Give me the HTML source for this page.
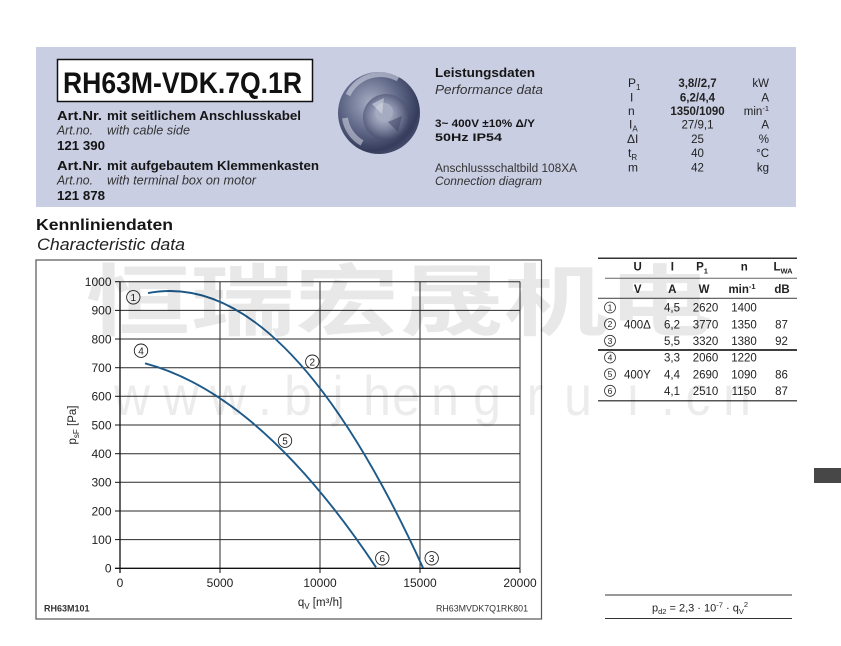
<!DOCTYPE html>
<html><head><meta charset="utf-8">
<style>
html,body{margin:0;padding:0;background:#fff;}
svg{display:block;}
text{font-family:"Liberation Sans",Arial,sans-serif;}
</style></head><body>
<svg width="841" height="646" viewBox="0 0 841 646" xmlns="http://www.w3.org/2000/svg">
<defs>
<radialGradient id="fanOuter" cx="40%" cy="38%" r="68%">
<stop offset="0" stop-color="#a7aec4"/>
<stop offset="0.5" stop-color="#626a8a"/>
<stop offset="0.85" stop-color="#353c5c"/>
<stop offset="1" stop-color="#4a5170"/>
</radialGradient>
<radialGradient id="fanInner" cx="45%" cy="45%" r="60%">
<stop offset="0" stop-color="#c2c7d6"/>
<stop offset="0.55" stop-color="#7c839f"/>
<stop offset="1" stop-color="#3a4060"/>
</radialGradient>
</defs>
<rect x="0" y="0" width="841" height="646" fill="#fff"/>

<!-- Header band -->
<rect x="36" y="47" width="760" height="160" fill="#c9cee3"/>
<rect x="57.5" y="59.5" width="255" height="42" fill="#fff" stroke="#111" stroke-width="1.5"/>
<text x="63" y="93" font-size="30" font-weight="bold" textLength="239" lengthAdjust="spacingAndGlyphs" fill="#111">RH63M-VDK.7Q.1R</text>

<g font-size="13" fill="#151515">
<text x="57" y="120" font-weight="bold" textLength="45" lengthAdjust="spacingAndGlyphs">Art.Nr.</text>
<text x="107" y="120" font-weight="bold" textLength="194" lengthAdjust="spacingAndGlyphs">mit seitlichem Anschlusskabel</text>
<text x="57" y="134.5" font-style="italic" textLength="36" lengthAdjust="spacingAndGlyphs" fill="#333">Art.no.</text>
<text x="107" y="134.5" font-style="italic" textLength="83" lengthAdjust="spacingAndGlyphs" fill="#333">with cable side</text>
<text x="57" y="150" font-weight="bold" textLength="48" lengthAdjust="spacingAndGlyphs">121 390</text>
<text x="57" y="170" font-weight="bold" textLength="45" lengthAdjust="spacingAndGlyphs">Art.Nr.</text>
<text x="107" y="170" font-weight="bold" textLength="212" lengthAdjust="spacingAndGlyphs">mit aufgebautem Klemmenkasten</text>
<text x="57" y="184.5" font-style="italic" textLength="36" lengthAdjust="spacingAndGlyphs" fill="#333">Art.no.</text>
<text x="107" y="184.5" font-style="italic" textLength="149" lengthAdjust="spacingAndGlyphs" fill="#333">with terminal box on motor</text>
<text x="57" y="200" font-weight="bold" textLength="48" lengthAdjust="spacingAndGlyphs">121 878</text>
</g>

<!-- Fan image -->
<circle cx="379" cy="113" r="41" fill="url(#fanOuter)"/>
<path d="M348,95 A36,36 0 0 1 398,79" fill="none" stroke="#d0d4e2" stroke-width="5" opacity="0.6"/>
<path d="M345,118 A34,34 0 0 0 362,143" fill="none" stroke="#d5d9e6" stroke-width="6" opacity="0.55"/>
<circle cx="386" cy="117" r="23" fill="url(#fanInner)"/>
<circle cx="384" cy="112" r="9" fill="#a5abc0"/>
<path d="M372,104 L384,98 L382,114 Z" fill="#e2e5ee" opacity="0.5"/>
<path d="M388,122 L402,116 L398,132 Z" fill="#3a4060" opacity="0.5"/>

<g fill="#151515">
<text x="435" y="77" font-size="13" font-weight="bold" textLength="100" lengthAdjust="spacingAndGlyphs">Leistungsdaten</text>
<text x="435" y="94" font-size="13" font-style="italic" textLength="108" lengthAdjust="spacingAndGlyphs" fill="#333">Performance data</text>
<text x="435" y="127" font-size="11" font-weight="bold" textLength="100" lengthAdjust="spacingAndGlyphs">3~ 400V ±10% Δ/Y</text>
<text x="435" y="141" font-size="11" font-weight="bold" textLength="67" lengthAdjust="spacingAndGlyphs">50Hz   IP54</text>
<text x="435" y="172" font-size="11.5" textLength="142" lengthAdjust="spacingAndGlyphs" fill="#333">Anschlussschaltbild 108XA</text>
<text x="435" y="185" font-size="11.5" font-style="italic" textLength="107" lengthAdjust="spacingAndGlyphs" fill="#333">Connection diagram</text>
</g>

<g font-size="12" fill="#222">
<text x="628" y="87">P<tspan font-size="8" dy="3">1</tspan></text>
<text x="630" y="101.5">I</text>
<text x="628" y="115">n</text>
<text x="629" y="128.5">I<tspan font-size="8" dy="3">A</tspan></text>
<text x="627" y="143">ΔI</text>
<text x="628" y="157">t<tspan font-size="8" dy="3">R</tspan></text>
<text x="628" y="171.5">m</text>
</g>
<g font-size="11.5" fill="#222" text-anchor="middle">
<text x="697.5" y="87" font-weight="bold">3,8//2,7</text>
<text x="697.5" y="101.5" font-weight="bold">6,2/4,4</text>
<text x="697.5" y="115" font-weight="bold">1350/1090</text>
<text x="697.5" y="128.5">27/9,1</text>
<text x="697.5" y="143">25</text>
<text x="697.5" y="157">40</text>
<text x="697.5" y="171.5">42</text>
</g>
<g font-size="11.5" fill="#222" text-anchor="end">
<text x="769" y="87">kW</text>
<text x="769" y="101.5">A</text>
<text x="769" y="115">min<tspan font-size="7.5" dy="-4">-1</tspan></text>
<text x="769" y="128.5">A</text>
<text x="769" y="143">%</text>
<text x="769" y="157">°C</text>
<text x="769" y="171.5">kg</text>
</g>

<!-- Section title -->
<text x="36" y="230" font-size="16" font-weight="bold" fill="#151515" textLength="137" lengthAdjust="spacingAndGlyphs">Kennliniendaten</text>
<text x="37" y="250" font-size="17" font-style="italic" fill="#222" textLength="148" lengthAdjust="spacingAndGlyphs">Characteristic data</text>

<!-- Chart outer box -->
<rect x="36" y="260" width="505.5" height="359" fill="#fff" stroke="#555" stroke-width="1.2"/>

<!-- Grid -->
<g stroke="#2a2a2a" stroke-width="1">
<line x1="120" y1="539.6" x2="520" y2="539.6"/>
<line x1="120" y1="511.0" x2="520" y2="511.0"/>
<line x1="120" y1="482.3" x2="520" y2="482.3"/>
<line x1="120" y1="453.7" x2="520" y2="453.7"/>
<line x1="120" y1="425.0" x2="520" y2="425.0"/>
<line x1="120" y1="396.3" x2="520" y2="396.3"/>
<line x1="120" y1="367.7" x2="520" y2="367.7"/>
<line x1="120" y1="339.0" x2="520" y2="339.0"/>
<line x1="120" y1="310.4" x2="520" y2="310.4"/>
<line x1="120" y1="281.7" x2="520" y2="281.7"/>
<line x1="220" y1="281.7" x2="220" y2="568.3"/>
<line x1="320" y1="281.7" x2="320" y2="568.3"/>
<line x1="420" y1="281.7" x2="420" y2="568.3"/>
<line x1="520" y1="281.7" x2="520" y2="568.3"/>
</g>
<g stroke="#111" stroke-width="1.3">
<line x1="120" y1="281.7" x2="120" y2="573"/>
<line x1="115" y1="568.3" x2="520" y2="568.3"/>
</g>
<g stroke="#111" stroke-width="1">
<line x1="115" y1="539.6" x2="120" y2="539.6"/>
<line x1="115" y1="511.0" x2="120" y2="511.0"/>
<line x1="115" y1="482.3" x2="120" y2="482.3"/>
<line x1="115" y1="453.7" x2="120" y2="453.7"/>
<line x1="115" y1="425.0" x2="120" y2="425.0"/>
<line x1="115" y1="396.3" x2="120" y2="396.3"/>
<line x1="115" y1="367.7" x2="120" y2="367.7"/>
<line x1="115" y1="339.0" x2="120" y2="339.0"/>
<line x1="115" y1="310.4" x2="120" y2="310.4"/>
<line x1="115" y1="281.7" x2="120" y2="281.7"/>
<line x1="220" y1="568.3" x2="220" y2="573"/>
<line x1="320" y1="568.3" x2="320" y2="573"/>
<line x1="420" y1="568.3" x2="420" y2="573"/>
<line x1="520" y1="568.3" x2="520" y2="573"/>
</g>

<!-- Y tick labels -->
<g font-size="12" fill="#222" text-anchor="end">
<text x="111.5" y="572.6">0</text>
<text x="111.5" y="543.9">100</text>
<text x="111.5" y="515.3">200</text>
<text x="111.5" y="486.6">300</text>
<text x="111.5" y="458.0">400</text>
<text x="111.5" y="429.3">500</text>
<text x="111.5" y="400.6">600</text>
<text x="111.5" y="372.0">700</text>
<text x="111.5" y="343.3">800</text>
<text x="111.5" y="314.7">900</text>
<text x="111.5" y="286.0">1000</text>
</g>
<!-- X tick labels -->
<g font-size="12" fill="#222" text-anchor="middle">
<text x="120" y="587">0</text>
<text x="220" y="587">5000</text>
<text x="320" y="587">10000</text>
<text x="420" y="587">15000</text>
<text x="520" y="587">20000</text>
</g>
<text x="320" y="606" font-size="11.5" fill="#222" text-anchor="middle">q<tspan font-size="8" dy="3">V</tspan><tspan dy="-3"> [m³/h]</tspan></text>
<text transform="translate(76,425) rotate(-90)" font-size="11.5" fill="#222" text-anchor="middle">p<tspan font-size="8" dy="3">sF</tspan><tspan dy="-3"> [Pa]</tspan></text>
<text x="44" y="611.5" font-size="9" font-weight="bold" fill="#333">RH63M101</text>
<text x="528" y="611.5" font-size="9" fill="#333" text-anchor="end" textLength="92" lengthAdjust="spacingAndGlyphs">RH63MVDK7Q1RK801</text>

<!-- Curves -->
<g fill="none" stroke="#1d5a8a" stroke-width="1.9">
<path d="M148,293.1 Q285.5,266.9 423,567.8"/>
<path d="M145,363.3 Q260.5,394.1 376,567.3"/>
</g>

<!-- Circled labels -->
<g stroke="#222" stroke-width="0.9" fill="#fff">
<circle cx="133.3" cy="297.3" r="6.7"/>
<circle cx="141" cy="350.7" r="6.7"/>
<circle cx="312.3" cy="361.7" r="6.7"/>
<circle cx="285" cy="440.7" r="6.7"/>
<circle cx="382.3" cy="558.3" r="6.7"/>
<circle cx="431.7" cy="558.3" r="6.7"/>
</g>
<g font-size="10" fill="#222" text-anchor="middle">
<text x="133.3" y="301">1</text>
<text x="141" y="354.4">4</text>
<text x="312.3" y="365.4">2</text>
<text x="285" y="444.4">5</text>
<text x="382.3" y="562">6</text>
<text x="431.7" y="562">3</text>
</g>

<!-- Table -->
<g stroke="#333">
<line x1="598" y1="258.3" x2="797" y2="258.3" stroke-width="1.5"/>
<line x1="605" y1="278.3" x2="797" y2="278.3" stroke-width="1" stroke="#666"/>
<line x1="598" y1="298.3" x2="797" y2="298.3" stroke-width="1.2" stroke="#555"/>
<line x1="598" y1="350" x2="797" y2="350" stroke-width="1.8" stroke="#222"/>
<line x1="598" y1="400.7" x2="797" y2="400.7" stroke-width="1.5" stroke="#555"/>
</g>
<g font-size="11.5" font-weight="bold" fill="#222" text-anchor="middle">
<text x="637.7" y="270.7">U</text>
<text x="672.3" y="270.7">I</text>
<text x="702" y="270.7">P<tspan font-size="7.5" dy="3">1</tspan></text>
<text x="744.3" y="270.7">n</text>
<text x="783" y="270.7">L<tspan font-size="7.5" dy="3">WA</tspan></text>
<text x="637.7" y="293">V</text>
<text x="672.3" y="293">A</text>
<text x="704" y="293">W</text>
<text x="742" y="293">min<tspan font-size="7.5" dy="-4">-1</tspan></text>
<text x="782" y="293">dB</text>
</g>
<g stroke="#333" stroke-width="0.8" fill="#fff">
<circle cx="610" cy="307.5" r="5.5"/>
<circle cx="610" cy="324.1" r="5.5"/>
<circle cx="610" cy="340.8" r="5.5"/>
<circle cx="610" cy="357.5" r="5.5"/>
<circle cx="610" cy="374.1" r="5.5"/>
<circle cx="610" cy="390.8" r="5.5"/>
</g>
<g font-size="8.5" fill="#222" text-anchor="middle">
<text x="610" y="310.5">1</text>
<text x="610" y="327.1">2</text>
<text x="610" y="343.8">3</text>
<text x="610" y="360.5">4</text>
<text x="610" y="377.1">5</text>
<text x="610" y="393.8">6</text>
</g>
<g font-size="11.5" fill="#222">
<text x="624" y="328.3">400Δ</text>
<text x="624" y="378.3">400Y</text>
</g>
<g font-size="11.5" fill="#222" text-anchor="middle">
<text x="672" y="311.7">4,5</text><text x="705.5" y="311.7">2620</text><text x="744" y="311.7">1400</text>
<text x="672" y="328.3">6,2</text><text x="705.5" y="328.3">3770</text><text x="744" y="328.3">1350</text><text x="781.5" y="328.3">87</text>
<text x="672" y="345">5,5</text><text x="705.5" y="345">3320</text><text x="744" y="345">1380</text><text x="781.5" y="345">92</text>
<text x="672" y="361.7">3,3</text><text x="705.5" y="361.7">2060</text><text x="744" y="361.7">1220</text>
<text x="672" y="378.3">4,4</text><text x="705.5" y="378.3">2690</text><text x="744" y="378.3">1090</text><text x="781.5" y="378.3">86</text>
<text x="672" y="395">4,1</text><text x="705.5" y="395">2510</text><text x="744" y="395">1150</text><text x="781.5" y="395">87</text>
</g>

<!-- Dark marker -->
<rect x="814" y="468" width="27" height="15" fill="#474747"/>

<!-- Formula -->
<line x1="605" y1="595" x2="792" y2="595" stroke="#333" stroke-width="1"/>
<line x1="605" y1="618.5" x2="792" y2="618.5" stroke="#333" stroke-width="1"/>
<text x="700" y="611.5" font-size="11" fill="#222" text-anchor="middle">p<tspan font-size="7.5" dy="2.5">d2</tspan><tspan dy="-2.5"> = 2,3 · 10</tspan><tspan font-size="7.5" dy="-4">-7</tspan><tspan dy="4"> · q</tspan><tspan font-size="7.5" dy="2.5">V</tspan><tspan font-size="7.5" dy="-7">2</tspan></text>

<!-- Watermark -->
<g opacity="0.085" fill="#000">
<g transform="scale(1.34,1)">
<text x="64" y="329" font-size="78" font-weight="bold" style="font-family:'Noto Sans CJK SC','WenQuanYi Zen Hei',sans-serif">恒瑞宏晟机电</text>
</g>
</g>
<g opacity="0.07" fill="#000">
<g transform="translate(0,415) scale(1,1.12)" font-size="50" text-anchor="middle">
<text x="132" y="0">w</text>
<text x="181" y="0">w</text>
<text x="228" y="0">w</text>
<text x="265" y="0">.</text>
<text x="298" y="0">b</text>
<text x="338" y="0">j</text>
<text x="377" y="0">h</text>
<text x="406" y="0">e</text>
<text x="445" y="0">n</text>
<text x="487" y="0">g</text>
<text x="535" y="0">r</text>
<text x="578" y="0">u</text>
<text x="633" y="0">i</text>
<text x="668" y="0">.</text>
<text x="698" y="0">c</text>
<text x="737" y="0">n</text>
</g>
</g>
</svg>
</body></html>
